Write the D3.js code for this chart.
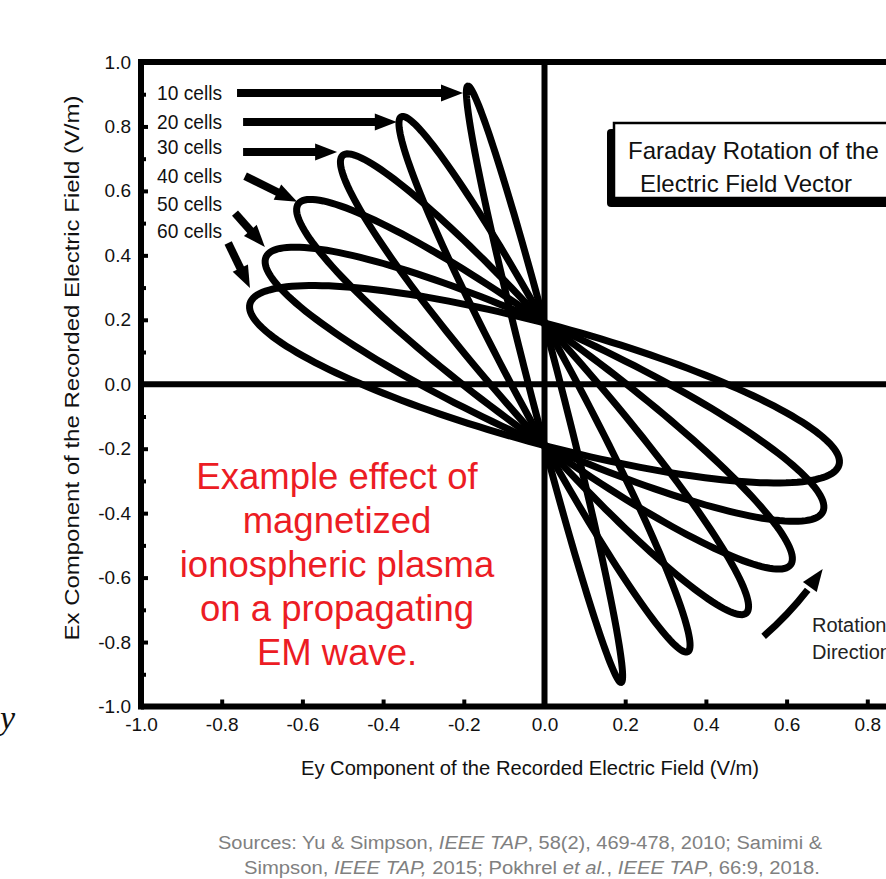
<!DOCTYPE html>
<html>
<head>
<meta charset="utf-8">
<script src="https://cdn.jsdelivr.net/npm/d3@7"></script>
<style>
  body { margin: 0; background: #fff; }
  svg { display: block; }
</style>
</head>
<body>
<div class="faraday"></div>
<script>
// loops: upper-left tip of each loop, and where it crosses Ey = 0
const cells = ["10 cells", "20 cells", "30 cells", "40 cells", "50 cells", "60 cells"]
const tipX = [-0.19, -0.355, -0.50, -0.61, -0.69, -0.73]
const tipY = [0.925, 0.83, 0.71, 0.56, 0.395, 0.25]
const crossY = [0.19, 0.19, 0.19, 0.19, 0.19, 0.19]

// label arrows (Ey, Ex)
const arrowFrom = [[-0.762, 0.904], [-0.747, 0.814], [-0.747, 0.721], [-0.742, 0.646], [-0.767, 0.531], [-0.784, 0.438]]
const arrowTo = [[-0.202, 0.904], [-0.366, 0.814], [-0.514, 0.721], [-0.613, 0.566], [-0.693, 0.426], [-0.730, 0.299]]
const labelY = [0.906, 0.816, 0.738, 0.648, 0.561, 0.477]

const xTicks = [-1.0, -0.8, -0.6, -0.4, -0.2, 0.0, 0.2, 0.4, 0.6, 0.8]
const yTicks = [-1.0, -0.8, -0.6, -0.4, -0.2, 0.0, 0.2, 0.4, 0.6, 0.8, 1.0]
const yMinor = [-0.9, -0.7, -0.5, -0.3, -0.1, 0.1, 0.3, 0.5, 0.7, 0.9]

const redLines = ["Example effect of", "magnetized", "ionospheric plasma", "on a propagating", "EM wave."]

var width = 886
var height = 879
var font = "'Liberation Sans', Arial, sans-serif"

var svg = d3.select(".faraday")
  .append("svg")
  .attr("width", width)
  .attr("height", height)
  .style("font-family", font)

var x = d3.scaleLinear().domain([-1, 1]).range([141, 948])
var y = d3.scaleLinear().domain([-1, 1]).range([706.5, 62])
var fmt = d => d.toFixed(1)

// ticks + labels
var gy = svg.append("g").attr("transform", "translate(" + x(-1) + ",0)")
gy.call(d3.axisLeft(y).tickValues(yTicks).tickSize(-7).tickPadding(10).tickFormat(fmt))
var gyMinor = svg.append("g").attr("transform", "translate(" + x(-1) + ",0)")
gyMinor.call(d3.axisLeft(y).tickValues(yMinor).tickSize(-5).tickFormat(""))
var gx = svg.append("g").attr("transform", "translate(0," + y(-1) + ")")
gx.call(d3.axisBottom(x).tickValues(xTicks).tickSize(-7).tickPadding(11).tickFormat(fmt))

svg.selectAll(".domain").remove()
svg.selectAll(".tick line").attr("stroke", "#000").attr("stroke-width", 4)
svg.selectAll(".tick text").attr("fill", "#111").style("font-size", "19px").style("font-family", font)

// frame and zero lines
var frame = [
  [x(-1), y(-1), width + 10, y(-1)],
  [x(-1), y(1), width + 10, y(1)],
  [x(-1), y(1) - 3, x(-1), y(-1) + 3],
  [x(0), y(1), x(0), y(-1)],
  [x(-1), y(0), width + 10, y(0)]
]
svg.selectAll("line.frame")
  .data(frame)
  .enter()
  .append("line")
  .attr("class", "frame")
  .attr("x1", d => d[0]).attr("y1", d => d[1])
  .attr("x2", d => d[2]).attr("y2", d => d[3])
  .attr("stroke", "#000")
  .attr("stroke-width", 6)

// loops
function loopPoints(i) {
  var cx = x(0), cy = y(0)
  var tx = x(tipX[i]) - cx, ty = y(tipY[i]) - cy
  var a = Math.hypot(tx, ty)
  var ux = tx / a, uy = ty / a
  var vx = -uy, vy = ux
  var py = y(crossY[i]) - cy
  var pu = py * uy, pv = py * vy
  var b = Math.abs(pv) / Math.sqrt(1 - (pu / a) * (pu / a))
  return d3.range(0, 2 * Math.PI, Math.PI / 90).map(t => [
    cx + a * Math.cos(t) * ux + b * Math.sin(t) * vx,
    cy + a * Math.cos(t) * uy + b * Math.sin(t) * vy
  ])
}
var loopLine = d3.line().curve(d3.curveLinearClosed)
svg.selectAll("path.loop")
  .data(cells)
  .enter()
  .append("path")
  .attr("class", "loop")
  .attr("d", (d, i) => loopLine(loopPoints(i)))
  .attr("fill", "none")
  .attr("stroke", "#000")
  .attr("stroke-width", 7)

// labels with arrows
svg.selectAll("text.cell")
  .data(cells)
  .enter()
  .append("text")
  .attr("class", "cell")
  .attr("x", 157)
  .attr("y", (d, i) => y(labelY[i]))
  .attr("dy", "0.36em")
  .attr("textLength", 65).attr("lengthAdjust", "spacingAndGlyphs")
  .style("font-size", "21px")
  .attr("fill", "#111")
  .text(d => d)

var headLen = 22, headW = 17
function arrowParts(p0, p1) {
  var dx = p1[0] - p0[0], dy = p1[1] - p0[1]
  var len = Math.hypot(dx, dy)
  dx /= len; dy /= len
  var bx = p1[0] - dx * headLen, by = p1[1] - dy * headLen
  return {
    line: [p0, [bx + dx * 2, by + dy * 2]],
    head: [p1, [bx - dy * headW / 2, by + dx * headW / 2], [bx + dy * headW / 2, by - dx * headW / 2]]
  }
}
var arrows = cells.map((c, i) => arrowParts(
  [x(arrowFrom[i][0]), y(arrowFrom[i][1])],
  [x(arrowTo[i][0]), y(arrowTo[i][1])]))

svg.selectAll("line.arrow")
  .data(arrows)
  .enter()
  .append("line")
  .attr("class", "arrow")
  .attr("x1", d => d.line[0][0]).attr("y1", d => d.line[0][1])
  .attr("x2", d => d.line[1][0]).attr("y2", d => d.line[1][1])
  .attr("stroke", "#000")
  .attr("stroke-width", 8)
svg.selectAll("path.head")
  .data(arrows)
  .enter()
  .append("path")
  .attr("class", "head")
  .attr("d", d => "M" + d.head.join("L") + "Z")
  .attr("fill", "#000")

// title box with shadow
svg.append("rect").attr("x", 607).attr("y", 129).attr("width", 320).attr("height", 78).attr("rx", 4).attr("fill", "#000")
svg.append("rect").attr("x", 614).attr("y", 123).attr("width", 320).attr("height", 75).attr("fill", "#fff")
  .attr("stroke", "#000").attr("stroke-width", 2.5)
svg.append("text").attr("x", 628).attr("y", 159).style("font-size", "24px").attr("fill", "#111")
  .text("Faraday Rotation of the")
svg.append("text").attr("x", 640).attr("y", 192).style("font-size", "24px").attr("fill", "#111")
  .text("Electric Field Vector")

// red note
svg.selectAll("text.note")
  .data(redLines)
  .enter()
  .append("text")
  .attr("class", "note")
  .attr("x", 337)
  .attr("y", (d, i) => 489 + i * 44)
  .attr("text-anchor", "middle")
  .style("font-size", "36.5px")
  .attr("fill", "#ec1c24")
  .text(d => d)

// rotation direction arrow (arc around the origin)
var rot = d3.path()
rot.arc(x(0), y(0), 334, 49 * Math.PI / 180, 38 * Math.PI / 180, true)
svg.append("path").attr("d", rot.toString()).attr("fill", "none").attr("stroke", "#000").attr("stroke-width", 7)
var ra = 38 * Math.PI / 180, rb = 33.6 * Math.PI / 180
var rp0 = [x(0) + 334 * Math.cos(ra), y(0) + 334 * Math.sin(ra)]
var rp1 = [x(0) + 334 * Math.cos(rb), y(0) + 334 * Math.sin(rb)]
var rh = arrowParts([2 * rp0[0] - rp1[0], 2 * rp0[1] - rp1[1]], rp1)
svg.append("path").attr("d", "M" + rh.head.join("L") + "Z").attr("fill", "#000")
svg.append("text").attr("x", 812).attr("y", 632).style("font-size", "20px").attr("fill", "#222").text("Rotation")
svg.append("text").attr("x", 812).attr("y", 659).style("font-size", "20px").attr("fill", "#222").text("Direction")

// axis titles
svg.append("text")
  .attr("x", 530).attr("y", 775)
  .attr("text-anchor", "middle")
  .attr("textLength", 458).attr("lengthAdjust", "spacingAndGlyphs")
  .style("font-size", "20px").attr("fill", "#111")
  .text("Ey Component of the Recorded Electric Field (V/m)")
svg.append("text")
  .attr("transform", "translate(79,368) rotate(-90)")
  .attr("text-anchor", "middle")
  .attr("textLength", 545).attr("lengthAdjust", "spacingAndGlyphs")
  .style("font-size", "21px").attr("fill", "#111")
  .text("Ex Component of the Recorded Electric Field (V/m)")

// stray letter from the slide
svg.append("text").attr("x", 0).attr("y", 729)
  .style("font-family", "'Liberation Serif', 'Times New Roman', serif").style("font-style", "italic")
  .style("font-size", "34px").attr("fill", "#111").text("y")

// sources
var src1 = svg.append("text").attr("x", 218).attr("y", 849).style("font-size", "18px").attr("fill", "#808080")
  .attr("textLength", 604).attr("lengthAdjust", "spacingAndGlyphs")
src1.append("tspan").text("Sources:  Yu & Simpson, ")
src1.append("tspan").style("font-style", "italic").text("IEEE TAP")
src1.append("tspan").text(",  58(2), 469-478, 2010;  Samimi &")
var src2 = svg.append("text").attr("x", 244).attr("y", 874).style("font-size", "18px").attr("fill", "#808080")
  .attr("textLength", 576).attr("lengthAdjust", "spacingAndGlyphs")
src2.append("tspan").text("Simpson, ")
src2.append("tspan").style("font-style", "italic").text("IEEE TAP,")
src2.append("tspan").text(" 2015; Pokhrel ")
src2.append("tspan").style("font-style", "italic").text("et al.")
src2.append("tspan").text(", ")
src2.append("tspan").style("font-style", "italic").text("IEEE TAP")
src2.append("tspan").text(", 66:9, 2018.")
</script>
</body>
</html>
